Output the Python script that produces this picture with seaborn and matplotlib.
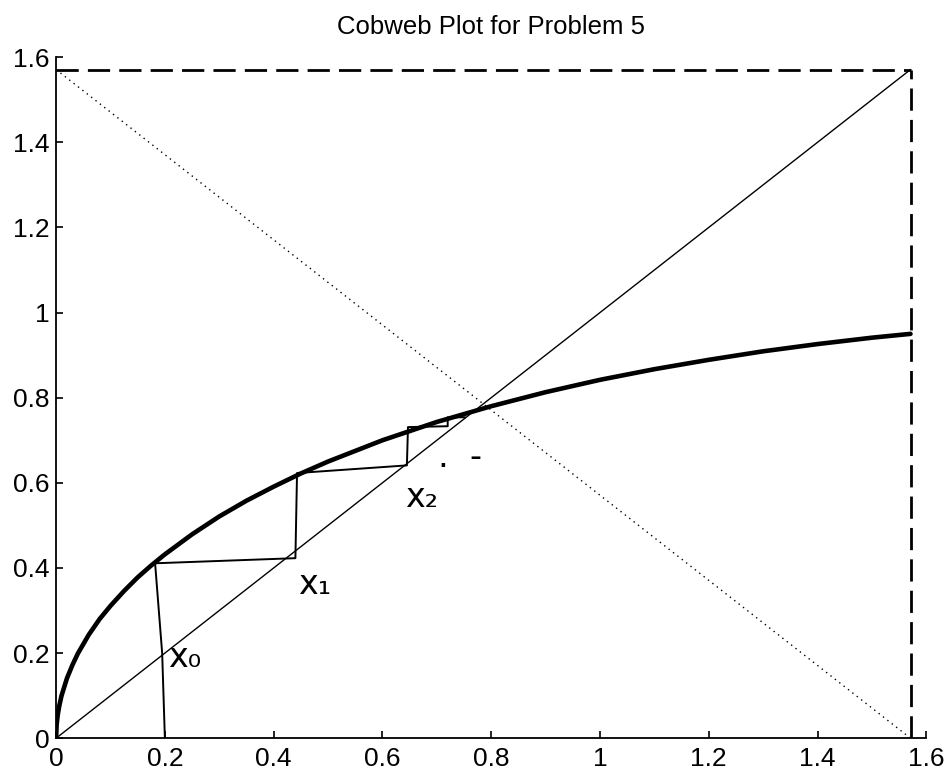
import numpy as np
import pandas as pd
import seaborn as sns
import matplotlib.pyplot as plt

#region 1. Data
# thick curve f(x)
curve_x = [0, 0.001, 0.003, 0.006, 0.01, 0.02, 0.03, 0.04, 0.06, 0.08, 0.1, 0.125,
           0.15, 0.175, 0.2, 0.25, 0.3, 0.35, 0.4, 0.45, 0.5, 0.6, 0.7, 0.8, 0.9, 1.0,
           1.1, 1.2, 1.3, 1.4, 1.5, 1.571]
curve_y = [0, 0.032, 0.055, 0.077, 0.100, 0.141, 0.172, 0.199, 0.243, 0.280, 0.311, 0.346,
           0.378, 0.406, 0.432, 0.479, 0.521, 0.558, 0.591, 0.622, 0.650, 0.700, 0.743,
           0.780, 0.813, 0.842, 0.867, 0.889, 0.909, 0.926, 0.941, 0.950]

# box edge (pi/2) and the two diagonals
edge = 1.571
diag_x = [0, edge]
diag_y = [0, edge]
anti_x = [0, edge]
anti_y = [edge, 0]

# hand drawn cobweb steps
web_x = [0.200, 0.195, 0.182, 0.440, 0.443, 0.645, 0.647, 0.720, 0.720, 0.752]
web_y = [0.000, 0.200, 0.411, 0.423, 0.623, 0.641, 0.731, 0.733, 0.754, 0.754]

# hand written labels
label_text = ['x₀', 'x₁', 'x₂', '.  -']
label_x = [0.237, 0.475, 0.672, 0.742]
label_y = [0.190, 0.360, 0.565, 0.660]

ticks = [0, 0.2, 0.4, 0.6, 0.8, 1, 1.2, 1.4, 1.6]
tick_labels = ['0', '0.2', '0.4', '0.6', '0.8', '1', '1.2', '1.4', '1.6']
#endregion

#region 2. Plot
sns.set_theme(style='ticks')
plt.rcParams['font.family'] = ['Liberation Sans', 'DejaVu Sans']

fig = plt.figure(figsize=(9.51, 7.73), dpi=100)
ax = fig.add_axes([0.059, 0.045, 0.915, 0.881])

sns.lineplot(x=curve_x, y=curve_y, color='black', linewidth=3.3, sort=False,
             estimator=None, ax=ax)
sns.lineplot(x=diag_x, y=diag_y, color='black', linewidth=1.0, sort=False,
             estimator=None, ax=ax)
sns.lineplot(x=anti_x, y=anti_y, color='black', linewidth=1.0, sort=False,
             estimator=None, ax=ax)
ax.lines[-1].set_dashes([1, 3])

# dashed box edges
sns.lineplot(x=[0, edge], y=[edge, edge], color='black', linewidth=2.0,
             estimator=None, ax=ax)
ax.lines[-1].set_dashes([8, 3.3])
sns.lineplot(x=[edge, edge], y=[0, edge], color='black', linewidth=2.0, sort=False,
             estimator=None, ax=ax)
ax.lines[-1].set_dashes([8, 3.3])

# cobweb
sns.lineplot(x=web_x, y=web_y, color='black', linewidth=1.4, sort=False,
             estimator=None, ax=ax)

for t, lx, ly in zip(label_text, label_x, label_y):
    ax.text(lx, ly, t, fontsize=24, ha='center', va='center', color='black',
            family='DejaVu Sans')

ax.set_xlim(0, 1.6)
ax.set_ylim(0, 1.6)
ax.set_xticks(ticks)
ax.set_xticklabels(tick_labels)
ax.set_yticks(ticks)
ax.set_yticklabels(tick_labels)
ax.tick_params(direction='in', length=5, width=1.2, labelsize=19, colors='black')
ax.tick_params(axis='x', pad=6)
ax.tick_params(axis='y', pad=5)
sns.despine(ax=ax)
for s in ['left', 'bottom']:
    ax.spines[s].set_linewidth(1.3)
    ax.spines[s].set_color('black')

ax.set_title('Cobweb Plot for Problem 5', fontsize=18.5, pad=17, color='black')

fig.savefig('out.png', dpi=100)
#endregion
